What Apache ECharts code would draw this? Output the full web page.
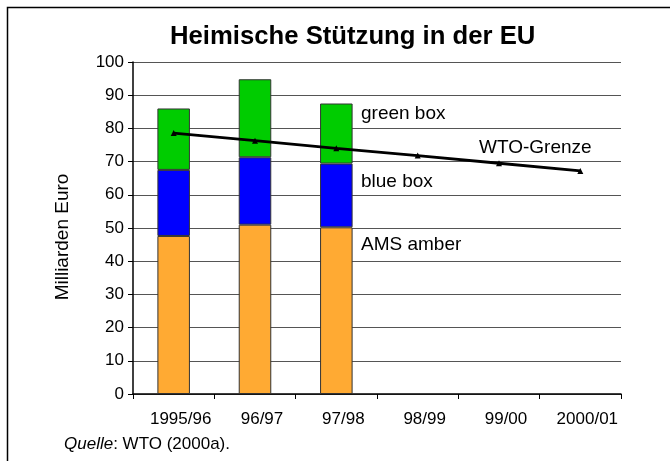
<!DOCTYPE html>
<html>
<head>
<meta charset="utf-8">
<title>Heimische Stützung in der EU</title>
<script src="https://cdn.jsdelivr.net/npm/echarts@6/dist/echarts.min.js"></script>
<style>
html, body { margin: 0; padding: 0; background: #fff; }
#chart { width: 670px; height: 461px; }
</style>
</head>
<body>
<div id="chart"></div>
<script>
// Jahre (Kategorien)
var jahre = ['1995/96', '96/97', '97/98', '98/99', '99/00', '2000/01'];
// Milliarden Euro, gestapelt
var amsAmber = [47.6, 51.0, 50.2, null, null, null];
var blueBox = [19.9, 20.3, 19.2, null, null, null];
var greenBox = [18.5, 23.5, 18.1, null, null, null];
// WTO-Grenze
var wtoGrenze = [78.6, 76.3, 74.0, 71.8, 69.5, 67.2];

var schrift = '"Liberation Sans", Arial, sans-serif';

var option = {
    animation: false,
    backgroundColor: '#fff',
    title: {
        text: 'Heimische Stützung in der EU',
        left: 170,
        top: 24,
        padding: 0,
        textStyle: { fontFamily: schrift, fontSize: 25.7, fontWeight: 'bold', color: '#000' }
    },
    grid: { left: 133, right: 49, top: 62, bottom: 67 },
    xAxis: {
        type: 'category',
        data: jahre,
        axisLine: { lineStyle: { color: '#000', width: 1.5 } },
        axisTick: { show: true, length: 5, lineStyle: { color: '#000' } },
        axisLabel: { fontFamily: schrift, fontSize: 17, color: '#000', margin: 17, padding: [0, 0, 0, 14] }
    },
    yAxis: {
        type: 'value',
        min: 0,
        max: 100,
        interval: 10,
        axisLine: { show: true, lineStyle: { color: '#000', width: 1.5 } },
        axisTick: { show: true, length: 5, lineStyle: { color: '#000' } },
        axisLabel: { fontFamily: schrift, fontSize: 17, color: '#000', margin: 9 },
        splitLine: { lineStyle: { color: '#555', width: 1 } }
    },
    series: [
        {
            name: 'AMS amber', type: 'bar', stack: 'eu', data: amsAmber,
            barWidth: '40%',
            itemStyle: { color: '#FFAA33', borderColor: '#333', borderWidth: 1 }
        },
        {
            name: 'blue box', type: 'bar', stack: 'eu', data: blueBox,
            itemStyle: { color: '#0000FF', borderColor: '#333', borderWidth: 1 }
        },
        {
            name: 'green box', type: 'bar', stack: 'eu', data: greenBox,
            itemStyle: { color: '#00CC00', borderColor: '#333', borderWidth: 1 }
        },
        {
            name: 'WTO-Grenze', type: 'line', data: wtoGrenze,
            symbol: 'triangle', symbolSize: 6,
            lineStyle: { color: '#000', width: 2.8 },
            itemStyle: { color: '#000' },
            z: 5
        }
    ],
    graphic: [
        { type: 'rect', left: 5, top: 5, shape: { width: 700, height: 500 },
          style: { fill: 'none', stroke: '#000', lineWidth: 1.5 }, silent: true },
        { type: 'text', x: 63, y: 237, rotation: Math.PI / 2, style: {
            text: 'Milliarden Euro', fontFamily: schrift, fontSize: 19, fill: '#000',
            align: 'center', verticalAlign: 'middle' } },
        { type: 'text', left: 361, top: 104, style: { text: 'green box', fontFamily: schrift, fontSize: 19, fill: '#000' } },
        { type: 'text', left: 361, top: 172, style: { text: 'blue box', fontFamily: schrift, fontSize: 19, fill: '#000' } },
        { type: 'text', left: 361, top: 235, style: { text: 'AMS amber', fontFamily: schrift, fontSize: 19, fill: '#000' } },
        { type: 'text', left: 479, top: 138, style: { text: 'WTO-Grenze', fontFamily: schrift, fontSize: 19, fill: '#000' } },
        { type: 'text', left: 64, top: 436, style: {
            text: '{i|Quelle}: WTO (2000a).',
            fontFamily: schrift, fontSize: 17, fill: '#000',
            rich: { i: { fontFamily: schrift, fontSize: 17, fontStyle: 'italic', fill: '#000' } }
        } }
    ]
};

var myChart = echarts.init(document.getElementById('chart'));
myChart.setOption(option);
</script>
</body>
</html>
